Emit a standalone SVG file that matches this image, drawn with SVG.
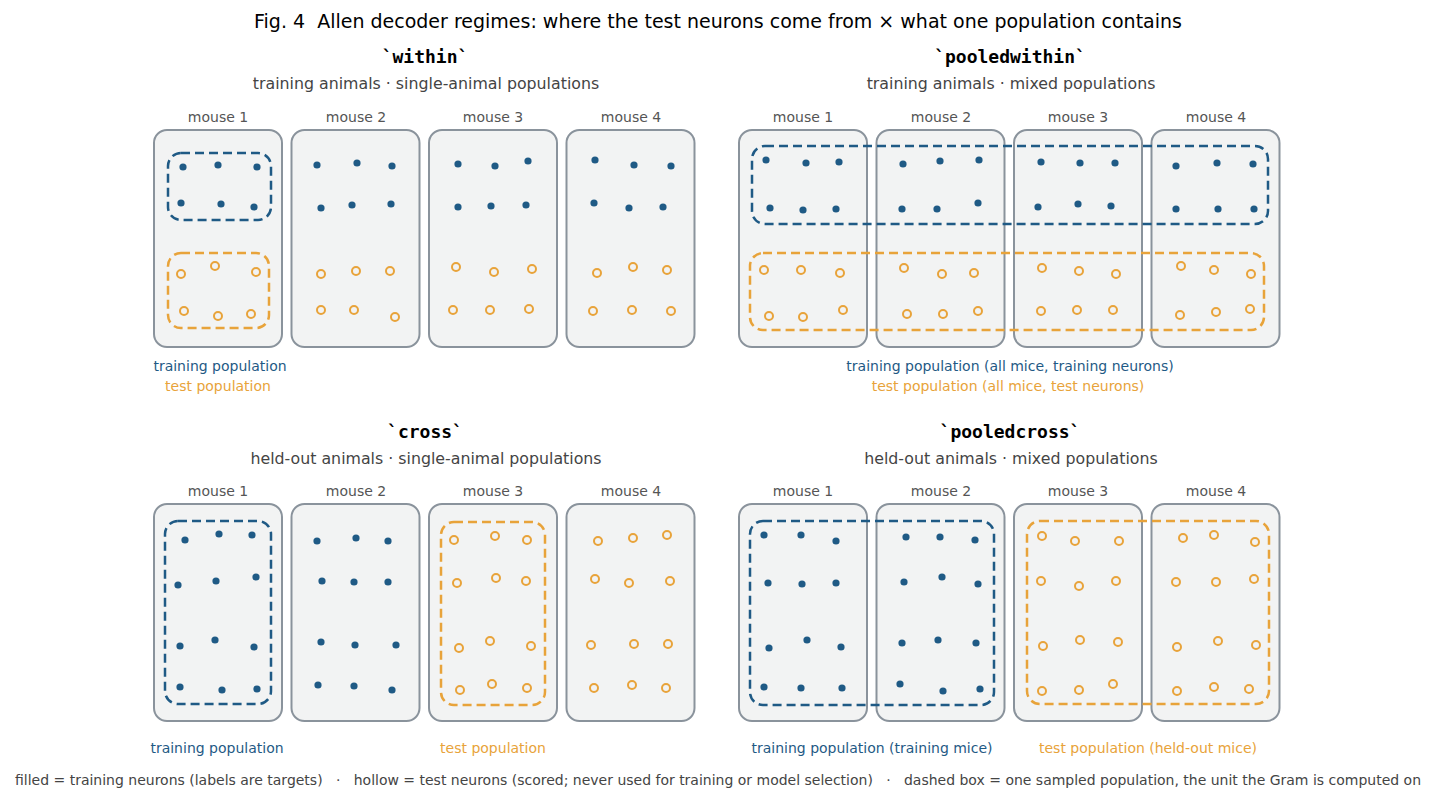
<svg xmlns="http://www.w3.org/2000/svg" width="1437" height="803" viewBox="0 0 1437 803">
<style>
text{font-family:"DejaVu Sans","Liberation Sans",sans-serif}
.title{font-size:19px;fill:#000}
.pt{font-family:"DejaVu Sans Mono","Liberation Mono",monospace;font-weight:bold;font-size:18px;fill:#000}
.sub{font-size:15.8px;fill:#444}
.ml{font-size:14px;fill:#555}
.lb{font-size:14px;fill:#1f5a85}
.lo{font-size:14px;fill:#e8a33a}
.foot{font-size:13.5px;fill:#444}
.box{fill:#f2f3f3;stroke:#8a939c;stroke-width:2}
.f{fill:#1f5a85}
.h{fill:none;stroke:#e8a33a;stroke-width:2}
.db{fill:none;stroke:#1f5a85;stroke-width:2.5;stroke-dasharray:9 5}
.do{fill:none;stroke:#e8a33a;stroke-width:2.5;stroke-dasharray:9 5}
</style>
<rect width="1437" height="803" fill="#fff"/>
<text class="title" x="718" y="28" text-anchor="middle" xml:space="preserve">Fig. 4  Allen decoder regimes: where the test neurons come from × what one population contains</text>

<!-- Panel: within -->
<g id="panel-within">
<text class="pt" x="425" y="63" text-anchor="middle">`within`</text>
<text class="sub" x="426" y="89" text-anchor="middle">training animals · single-animal populations</text>
<g id="w-m1"><text class="ml" x="218" y="122" text-anchor="middle">mouse 1</text><rect class="box" x="154" y="130" width="128" height="217" rx="13"/></g>
<g id="w-m2"><text class="ml" x="356" y="122" text-anchor="middle">mouse 2</text><rect class="box" x="291.5" y="130" width="128" height="217" rx="13"/></g>
<g id="w-m3"><text class="ml" x="493" y="122" text-anchor="middle">mouse 3</text><rect class="box" x="429" y="130" width="128" height="217" rx="13"/></g>
<g id="w-m4"><text class="ml" x="631" y="122" text-anchor="middle">mouse 4</text><rect class="box" x="566.5" y="130" width="128" height="217" rx="13"/></g>
<g class="f">
<circle cx="183" cy="167" r="3.6"/><circle cx="218" cy="165" r="3.6"/><circle cx="257" cy="167" r="3.6"/><circle cx="181" cy="203" r="3.6"/><circle cx="221" cy="204" r="3.6"/><circle cx="254" cy="207" r="3.6"/>
<circle cx="317" cy="165" r="3.6"/><circle cx="357" cy="163" r="3.6"/><circle cx="392" cy="166" r="3.6"/><circle cx="321" cy="208" r="3.6"/><circle cx="352" cy="205" r="3.6"/><circle cx="391" cy="204" r="3.6"/>
<circle cx="458" cy="164" r="3.6"/><circle cx="495" cy="166" r="3.6"/><circle cx="528" cy="161" r="3.6"/><circle cx="458" cy="207" r="3.6"/><circle cx="491" cy="206" r="3.6"/><circle cx="526" cy="205" r="3.6"/>
<circle cx="595" cy="160" r="3.6"/><circle cx="634" cy="165" r="3.6"/><circle cx="671" cy="166" r="3.6"/><circle cx="594" cy="203" r="3.6"/><circle cx="629" cy="208" r="3.6"/><circle cx="663" cy="207" r="3.6"/>
</g>
<g class="h">
<circle cx="181" cy="274" r="4"/><circle cx="215" cy="266" r="4"/><circle cx="256" cy="272" r="4"/><circle cx="184" cy="311" r="4"/><circle cx="218" cy="316" r="4"/><circle cx="251" cy="314" r="4"/>
<circle cx="321" cy="274" r="4"/><circle cx="356" cy="271" r="4"/><circle cx="390" cy="271" r="4"/><circle cx="321" cy="310" r="4"/><circle cx="354" cy="310" r="4"/><circle cx="395" cy="317" r="4"/>
<circle cx="456" cy="267" r="4"/><circle cx="494" cy="272" r="4"/><circle cx="532" cy="269" r="4"/><circle cx="453" cy="310" r="4"/><circle cx="490" cy="310" r="4"/><circle cx="529" cy="309" r="4"/>
<circle cx="597" cy="273" r="4"/><circle cx="633" cy="267" r="4"/><circle cx="667" cy="270" r="4"/><circle cx="593" cy="311" r="4"/><circle cx="632" cy="310" r="4"/><circle cx="671" cy="311" r="4"/>
</g>
<rect class="db" x="168" y="153" width="103" height="67" rx="13"/>
<rect class="do" x="168" y="253" width="101" height="75" rx="13"/>
<text class="lb" x="220" y="371" text-anchor="middle">training population</text>
<text class="lo" x="218" y="391" text-anchor="middle">test population</text>
</g>

<!-- Panel: pooledwithin -->
<g id="panel-pooledwithin">
<text class="pt" x="1010" y="63" text-anchor="middle">`pooledwithin`</text>
<text class="sub" x="1011" y="89" text-anchor="middle">training animals · mixed populations</text>
<g id="pw-m1"><text class="ml" x="803" y="122" text-anchor="middle">mouse 1</text><rect class="box" x="739" y="130" width="128" height="217" rx="13"/></g>
<g id="pw-m2"><text class="ml" x="941" y="122" text-anchor="middle">mouse 2</text><rect class="box" x="876.5" y="130" width="128" height="217" rx="13"/></g>
<g id="pw-m3"><text class="ml" x="1078" y="122" text-anchor="middle">mouse 3</text><rect class="box" x="1014" y="130" width="128" height="217" rx="13"/></g>
<g id="pw-m4"><text class="ml" x="1216" y="122" text-anchor="middle">mouse 4</text><rect class="box" x="1151.5" y="130" width="128" height="217" rx="13"/></g>
<g class="f">
<circle cx="766" cy="160" r="3.6"/><circle cx="806" cy="163" r="3.6"/><circle cx="839" cy="162" r="3.6"/><circle cx="770" cy="208" r="3.6"/><circle cx="803" cy="210" r="3.6"/><circle cx="836" cy="209" r="3.6"/>
<circle cx="903" cy="164" r="3.6"/><circle cx="940" cy="161" r="3.6"/><circle cx="979" cy="160" r="3.6"/><circle cx="902" cy="209" r="3.6"/><circle cx="937" cy="209" r="3.6"/><circle cx="978" cy="203" r="3.6"/>
<circle cx="1041" cy="162" r="3.6"/><circle cx="1080" cy="163" r="3.6"/><circle cx="1115" cy="163" r="3.6"/><circle cx="1038" cy="207" r="3.6"/><circle cx="1078" cy="204" r="3.6"/><circle cx="1111" cy="206" r="3.6"/>
<circle cx="1176" cy="166" r="3.6"/><circle cx="1217" cy="163" r="3.6"/><circle cx="1253" cy="164" r="3.6"/><circle cx="1176" cy="209" r="3.6"/><circle cx="1218" cy="209" r="3.6"/><circle cx="1254" cy="209" r="3.6"/>
</g>
<g class="h">
<circle cx="764" cy="270" r="4"/><circle cx="801" cy="270" r="4"/><circle cx="840" cy="273" r="4"/><circle cx="769" cy="316" r="4"/><circle cx="803" cy="317" r="4"/><circle cx="843" cy="310" r="4"/>
<circle cx="904" cy="268" r="4"/><circle cx="942" cy="274" r="4"/><circle cx="974" cy="273" r="4"/><circle cx="907" cy="314" r="4"/><circle cx="943" cy="314" r="4"/><circle cx="978" cy="311" r="4"/>
<circle cx="1042" cy="268" r="4"/><circle cx="1079" cy="271" r="4"/><circle cx="1116" cy="274" r="4"/><circle cx="1041" cy="311" r="4"/><circle cx="1077" cy="310" r="4"/><circle cx="1113" cy="310" r="4"/>
<circle cx="1181" cy="266" r="4"/><circle cx="1214" cy="270" r="4"/><circle cx="1251" cy="274" r="4"/><circle cx="1180" cy="315" r="4"/><circle cx="1216" cy="312" r="4"/><circle cx="1250" cy="309" r="4"/>
</g>
<rect class="db" x="752" y="146" width="516" height="78" rx="13"/>
<rect class="do" x="750" y="253" width="514" height="77" rx="13"/>
<text class="lb" x="1010" y="371" text-anchor="middle">training population (all mice, training neurons)</text>
<text class="lo" x="1008" y="391" text-anchor="middle">test population (all mice, test neurons)</text>
</g>

<!-- Panel: cross -->
<g id="panel-cross">
<text class="pt" x="425" y="438" text-anchor="middle">`cross`</text>
<text class="sub" x="426" y="464" text-anchor="middle">held-out animals · single-animal populations</text>
<g id="c-m1"><text class="ml" x="218" y="496" text-anchor="middle">mouse 1</text><rect class="box" x="154" y="504" width="128" height="217" rx="13"/></g>
<g id="c-m2"><text class="ml" x="356" y="496" text-anchor="middle">mouse 2</text><rect class="box" x="291.5" y="504" width="128" height="217" rx="13"/></g>
<g id="c-m3"><text class="ml" x="493" y="496" text-anchor="middle">mouse 3</text><rect class="box" x="429" y="504" width="128" height="217" rx="13"/></g>
<g id="c-m4"><text class="ml" x="631" y="496" text-anchor="middle">mouse 4</text><rect class="box" x="566.5" y="504" width="128" height="217" rx="13"/></g>
<g class="f">
<circle cx="185" cy="540" r="3.6"/><circle cx="219" cy="534" r="3.6"/><circle cx="252" cy="535" r="3.6"/><circle cx="178" cy="585" r="3.6"/><circle cx="216" cy="581" r="3.6"/><circle cx="256" cy="577" r="3.6"/><circle cx="180" cy="646" r="3.6"/><circle cx="215" cy="640" r="3.6"/><circle cx="254" cy="647" r="3.6"/><circle cx="180" cy="687" r="3.6"/><circle cx="222" cy="690" r="3.6"/><circle cx="257" cy="689" r="3.6"/>
<circle cx="317" cy="541" r="3.6"/><circle cx="356" cy="538" r="3.6"/><circle cx="388" cy="541" r="3.6"/><circle cx="322" cy="581" r="3.6"/><circle cx="354" cy="582" r="3.6"/><circle cx="388" cy="582" r="3.6"/><circle cx="321" cy="642" r="3.6"/><circle cx="355" cy="645" r="3.6"/><circle cx="396" cy="645" r="3.6"/><circle cx="318" cy="685" r="3.6"/><circle cx="354" cy="686" r="3.6"/><circle cx="392" cy="690" r="3.6"/>
</g>
<g class="h">
<circle cx="454" cy="540" r="4"/><circle cx="495" cy="536" r="4"/><circle cx="527" cy="540" r="4"/><circle cx="457" cy="583" r="4"/><circle cx="496" cy="578" r="4"/><circle cx="526" cy="581" r="4"/><circle cx="459" cy="648" r="4"/><circle cx="490" cy="641" r="4"/><circle cx="531" cy="646" r="4"/><circle cx="460" cy="690" r="4"/><circle cx="492" cy="684" r="4"/><circle cx="527" cy="688" r="4"/>
<circle cx="598" cy="541" r="4"/><circle cx="633" cy="538" r="4"/><circle cx="667" cy="535" r="4"/><circle cx="595" cy="579" r="4"/><circle cx="629" cy="583" r="4"/><circle cx="670" cy="581" r="4"/><circle cx="591" cy="645" r="4"/><circle cx="634" cy="644" r="4"/><circle cx="668" cy="644" r="4"/><circle cx="594" cy="688" r="4"/><circle cx="632" cy="685" r="4"/><circle cx="666" cy="688" r="4"/>
</g>
<rect class="db" x="165" y="521" width="106" height="183" rx="13"/>
<rect class="do" x="441" y="522" width="104" height="183" rx="13"/>
<text class="lb" x="217" y="753" text-anchor="middle">training population</text>
<text class="lo" x="493" y="753" text-anchor="middle">test population</text>
</g>

<!-- Panel: pooledcross -->
<g id="panel-pooledcross">
<text class="pt" x="1010" y="438" text-anchor="middle">`pooledcross`</text>
<text class="sub" x="1011" y="464" text-anchor="middle">held-out animals · mixed populations</text>
<g id="pc-m1"><text class="ml" x="803" y="496" text-anchor="middle">mouse 1</text><rect class="box" x="739" y="504" width="128" height="217" rx="13"/></g>
<g id="pc-m2"><text class="ml" x="941" y="496" text-anchor="middle">mouse 2</text><rect class="box" x="876.5" y="504" width="128" height="217" rx="13"/></g>
<g id="pc-m3"><text class="ml" x="1078" y="496" text-anchor="middle">mouse 3</text><rect class="box" x="1014" y="504" width="128" height="217" rx="13"/></g>
<g id="pc-m4"><text class="ml" x="1216" y="496" text-anchor="middle">mouse 4</text><rect class="box" x="1151.5" y="504" width="128" height="217" rx="13"/></g>
<g class="f">
<circle cx="764" cy="535" r="3.6"/><circle cx="801" cy="535" r="3.6"/><circle cx="836" cy="541" r="3.6"/><circle cx="768" cy="583" r="3.6"/><circle cx="802" cy="584" r="3.6"/><circle cx="836" cy="583" r="3.6"/><circle cx="769" cy="648" r="3.6"/><circle cx="807" cy="640" r="3.6"/><circle cx="841" cy="647" r="3.6"/><circle cx="764" cy="687" r="3.6"/><circle cx="801" cy="688" r="3.6"/><circle cx="842" cy="688" r="3.6"/>
<circle cx="906" cy="537" r="3.6"/><circle cx="940" cy="537" r="3.6"/><circle cx="975" cy="540" r="3.6"/><circle cx="904" cy="582" r="3.6"/><circle cx="942" cy="577" r="3.6"/><circle cx="978" cy="584" r="3.6"/><circle cx="902" cy="643" r="3.6"/><circle cx="938" cy="640" r="3.6"/><circle cx="976" cy="643" r="3.6"/><circle cx="900" cy="684" r="3.6"/><circle cx="943" cy="691" r="3.6"/><circle cx="980" cy="689" r="3.6"/>
</g>
<g class="h">
<circle cx="1042" cy="536" r="4"/><circle cx="1075" cy="541" r="4"/><circle cx="1119" cy="541" r="4"/><circle cx="1041" cy="581" r="4"/><circle cx="1079" cy="586" r="4"/><circle cx="1116" cy="581" r="4"/><circle cx="1043" cy="646" r="4"/><circle cx="1080" cy="640" r="4"/><circle cx="1118" cy="642" r="4"/><circle cx="1042" cy="691" r="4"/><circle cx="1079" cy="690" r="4"/><circle cx="1113" cy="684" r="4"/>
<circle cx="1183" cy="538" r="4"/><circle cx="1214" cy="535" r="4"/><circle cx="1255" cy="542" r="4"/><circle cx="1176" cy="582" r="4"/><circle cx="1216" cy="582" r="4"/><circle cx="1254" cy="579" r="4"/><circle cx="1177" cy="647" r="4"/><circle cx="1218" cy="641" r="4"/><circle cx="1256" cy="645" r="4"/><circle cx="1177" cy="691" r="4"/><circle cx="1214" cy="687" r="4"/><circle cx="1249" cy="689" r="4"/>
</g>
<rect class="db" x="750" y="521" width="244" height="184" rx="13"/>
<rect class="do" x="1027" y="521" width="242" height="183" rx="13"/>
<text class="lb" x="872" y="753" text-anchor="middle">training population (training mice)</text>
<text class="lo" x="1148" y="753" text-anchor="middle">test population (held-out mice)</text>
</g>

<g id="connectors"/>

<text class="foot" x="15" y="785" textLength="1406" lengthAdjust="spacingAndGlyphs" xml:space="preserve">filled = training neurons (labels are targets)   ·   hollow = test neurons (scored; never used for training or model selection)   ·   dashed box = one sampled population, the unit the Gram is computed on</text>
</svg>
